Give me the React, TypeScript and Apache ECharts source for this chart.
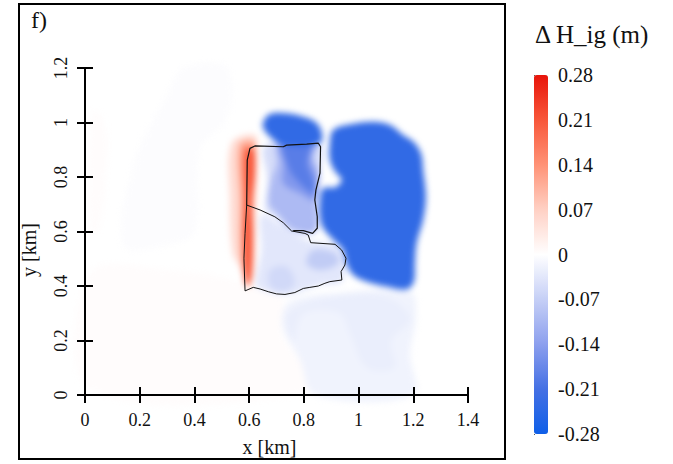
import React, { useEffect, useRef } from "react";
import * as echarts from "echarts";

const xTicks = [0, 0.2, 0.4, 0.6, 0.8, 1, 1.2, 1.4];
const yTicks = [0, 0.2, 0.4, 0.6, 0.8, 1, 1.2];
const colorbarTicks = [-0.28, -0.21, -0.14, -0.07, 0, 0.07, 0.14, 0.21, 0.28];
const colorStops = ["#0f5fe8", "#4470e4", "#8c9fee", "#c5cff6", "#ffffff", "#ffd0c4", "#ff9276", "#f8573a", "#e8140a"];

type Pt = number[];
// Contour regions of the difference field, in km.
const faintTop: Pt[] = [[0.14, 0.55], [0.18, 0.85], [0.3, 1.1], [0.36, 1.2], [0.52, 1.2], [0.52, 1.02], [0.42, 0.9], [0.4, 0.6], [0.3, 0.55]];
const faintLeft: Pt[] = [[0.02, 0.6], [0.05, 0.6], [0.08, 0.95], [0.04, 1.05], [0.02, 1]];
const faintBottom: Pt[] = [[0.02, 0.45], [0.3, 0.46], [0.55, 0.42], [0.72, 0.36], [0.72, 0.22], [0.84, 0.02], [0.02, 0.02]];
const paleBottom: Pt[] = [[0.725, 0.312], [0.761, 0.349], [0.907, 0.373], [1.188, 0.379], [1.21, 0.287], [1.188, 0.153], [1.2, 0], [0.841, 0], [0.786, 0.128], [0.725, 0.239]];
const paleBottomInner: Pt[] = [[0.74, 0.3], [0.9, 0.36], [1.1, 0.36], [1.19, 0.28], [1.12, 0.2], [1.13, 0.1], [1.03, 0.1], [0.97, 0.22], [0.93, 0.3], [0.8, 0.3], [0.76, 0.2]];
const redOuter: Pt[] = [[0.536, 0.924], [0.621, 0.954], [0.627, 0.887], [0.621, 0.679], [0.615, 0.447], [0.597, 0.392], [0.566, 0.471], [0.54, 0.52], [0.53, 0.716]];
const redMiddle: Pt[] = [[0.565, 0.917], [0.615, 0.93], [0.625, 0.875], [0.618, 0.691], [0.613, 0.447], [0.597, 0.398], [0.572, 0.496], [0.568, 0.716]];
const redCore: Pt[] = [[0.585, 0.899], [0.615, 0.899], [0.621, 0.814], [0.607, 0.703], [0.613, 0.593], [0.606, 0.434], [0.588, 0.404], [0.58, 0.593], [0.585, 0.716]];
const upperLight: Pt[] = [[0.66, 0.917], [0.859, 0.917], [0.859, 0.814], [0.841, 0.703], [0.847, 0.6], [0.761, 0.6], [0.688, 0.661], [0.66, 0.679], [0.668, 0.789]];
const lowerLight: Pt[] = [[0.645, 0.661], [0.725, 0.618], [0.81, 0.569], [0.914, 0.551], [0.95, 0.508], [0.938, 0.416], [0.859, 0.404], [0.737, 0.367], [0.65, 0.385], [0.625, 0.404], [0.645, 0.532]];
const lowerRight: Pt[] = [[0.834, 0.532], [0.914, 0.52], [0.926, 0.483], [0.859, 0.459], [0.81, 0.483]];
const lowerLeft: Pt[] = [[0.676, 0.459], [0.737, 0.471], [0.767, 0.41], [0.725, 0.379], [0.676, 0.398]];
const upperMid: Pt[] = [[0.701, 0.917], [0.847, 0.917], [0.834, 0.875], [0.859, 0.814], [0.847, 0.716], [0.841, 0.6], [0.761, 0.606], [0.701, 0.667], [0.672, 0.703], [0.68, 0.789], [0.701, 0.85]];
const upperStrong: Pt[] = [[0.713, 0.917], [0.834, 0.917], [0.825, 0.862], [0.847, 0.801], [0.841, 0.716], [0.786, 0.74], [0.725, 0.777], [0.725, 0.85]];
const upperCore: Pt[] = [[0.725, 0.924], [0.822, 0.924], [0.812, 0.85], [0.834, 0.789], [0.834, 0.74], [0.774, 0.789], [0.743, 0.838]];
const topBlob: Pt[] = [[0.652, 1.003], [0.676, 1.031], [0.737, 1.034], [0.798, 1.021], [0.841, 1.003], [0.865, 0.966], [0.859, 0.924], [0.725, 0.917], [0.676, 0.948], [0.652, 0.979]];
const bigBlob: Pt[] = [[0.908, 0.973], [0.981, 0.995], [1.054, 1.003], [1.115, 0.991], [1.163, 0.954], [1.206, 0.924], [1.23, 0.881], [1.236, 0.826], [1.246, 0.728], [1.236, 0.642], [1.212, 0.557], [1.206, 0.483], [1.202, 0.416], [1.176, 0.388], [1.102, 0.398], [1.029, 0.416], [0.981, 0.44], [0.956, 0.483], [0.944, 0.532], [0.908, 0.569], [0.871, 0.612], [0.859, 0.655], [0.859, 0.716], [0.871, 0.759], [0.914, 0.762], [0.938, 0.789], [0.914, 0.82], [0.895, 0.862], [0.895, 0.924]];

const contourRegions = [faintTop, faintLeft, faintBottom, paleBottom, paleBottomInner, redOuter, redMiddle, redCore, upperLight, lowerLight, lowerRight, lowerLeft, upperMid, upperStrong, upperCore, topBlob, bigBlob];
const contourLevels = [-0.004, 0.004, 0.004, -0.018, -0.025, 0.055, 0.12, 0.21, -0.05, -0.035, -0.075, -0.055, -0.1, -0.15, -0.19, -0.235, -0.235];

const upperOutline: Pt[] = [[0.591, 0.697], [0.593, 0.862], [0.603, 0.905], [0.621, 0.914], [0.725, 0.911], [0.737, 0.917], [0.81, 0.921], [0.853, 0.924], [0.861, 0.911], [0.859, 0.814], [0.844, 0.752], [0.84, 0.716], [0.849, 0.654], [0.849, 0.612], [0.832, 0.593], [0.798, 0.603], [0.761, 0.603]];
const lowerOutline: Pt[] = [[0.591, 0.697], [0.64, 0.679], [0.694, 0.654], [0.725, 0.632], [0.755, 0.602], [0.804, 0.593], [0.816, 0.587], [0.825, 0.559], [0.914, 0.553], [0.938, 0.532], [0.954, 0.502], [0.95, 0.477], [0.936, 0.453], [0.939, 0.422], [0.895, 0.416], [0.877, 0.41], [0.853, 0.4], [0.822, 0.395], [0.798, 0.391], [0.767, 0.376], [0.731, 0.369], [0.7, 0.371], [0.67, 0.379], [0.64, 0.389], [0.615, 0.395], [0.585, 0.382], [0.581, 0.502], [0.585, 0.593], [0.591, 0.697]];

const FONT = "Liberation Serif";
const INK = "#111";
const plotGrid = { left: 85, top: 68, width: 383, height: 327 };

export default function App() {
  const fieldRef = useRef<HTMLDivElement>(null);
  const ref = useRef<HTMLDivElement>(null);
  useEffect(() => {
    // The colour field sits in its own layer, softened with a CSS blur.
    const field = echarts.init(fieldRef.current!, undefined, { renderer: "svg" });
    field.setOption({
      animation: false,
      grid: plotGrid,
      xAxis: { type: "value", min: 0, max: 1.4, show: false },
      yAxis: { type: "value", min: 0, max: 1.2, show: false },
      visualMap: { type: "continuous", show: false, min: -0.28, max: 0.28, dimension: 1, seriesIndex: 0, inRange: { color: colorStops } },
      series: [
        {
          type: "custom", coordinateSystem: "cartesian2d", silent: true,
          data: contourLevels.map((level, i) => [i, level]),
          encode: { x: 0, y: 1 },
          renderItem: (_p: any, api: any) => ({
            type: "polygon",
            shape: { points: contourRegions[api.value(0)].map((p) => api.coord(p)), smooth: 0.35 },
            style: { fill: api.visual("color") },
          }),
        },
      ],
    });

    const chart = echarts.init(ref.current!, undefined, { renderer: "svg" });
    const plainAxis = { type: "value", min: 0, gridIndex: 0, z: 10 };
    const outline = (data: Pt[], width: number) => ({
      type: "line", data, symbol: "none", z: 5, silent: true,
      lineStyle: { color: "#111", width },
    });
    chart.setOption({
      animation: false,
      backgroundColor: "transparent",
      grid: [plotGrid, { left: 534, top: 75, width: 14, height: 359 }],
      xAxis: [
        {
          ...plainAxis, max: 1.4, interval: 0.2, position: "bottom",
          name: "x [km]", nameLocation: "middle", nameGap: 42,
          nameTextStyle: { fontFamily: FONT, fontSize: 20, color: INK, padding: [0, 14, 0, 0] },
          splitLine: { show: false },
          axisLine: { onZero: false, lineStyle: { color: "#000", width: 2 } },
          axisTick: { length: 8, lineStyle: { color: "#000", width: 2 } },
          axisLabel: { fontFamily: FONT, fontSize: 18, color: INK, margin: 16, customValues: xTicks },
        },
        {
          ...plainAxis, max: 1.4, interval: 0.2, position: "bottom",
          splitLine: { show: false },
          axisLine: { show: false },
          axisTick: { inside: true, length: 8, lineStyle: { color: "#000", width: 2 } },
          axisLabel: { show: false },
        },
        { type: "value", gridIndex: 1, min: 0, max: 1, show: false },
      ],
      yAxis: [
        {
          ...plainAxis, max: 1.2, interval: 0.2, position: "left",
          name: "y [km]", nameLocation: "middle", nameGap: 46,
          nameTextStyle: { fontFamily: FONT, fontSize: 20, color: INK, padding: [0, 37, 0, 0] },
          splitLine: { show: false },
          axisLine: { onZero: false, lineStyle: { color: "#000", width: 2 } },
          axisTick: { length: 8, lineStyle: { color: "#000", width: 2 } },
          axisLabel: { fontFamily: FONT, fontSize: 18, color: INK, rotate: 90, margin: 15, customValues: yTicks },
        },
        {
          ...plainAxis, max: 1.2, interval: 0.2, position: "left",
          splitLine: { show: false },
          axisLine: { show: false },
          axisTick: { inside: true, length: 8, lineStyle: { color: "#000", width: 2 } },
          axisLabel: { show: false },
        },
        {
          type: "value", gridIndex: 1, min: -0.28, max: 0.28, position: "right",
          splitLine: { show: false },
          axisLine: { show: false },
          axisTick: { length: 1, lineStyle: { color: "#555" }, customValues: colorbarTicks },
          axisLabel: {
            fontFamily: FONT, fontSize: 20, color: INK, margin: 10, align: "left", padding: [3, 0, 0, 0],
            customValues: colorbarTicks,
            formatter: (v: number) => (Math.abs(v) < 1e-9 ? "0" : v.toFixed(2)),
          },
        },
      ],
      visualMap: {
        type: "continuous", min: -0.28, max: 0.28, dimension: 1, seriesIndex: 2,
        left: 534, top: 75, itemWidth: 14, itemHeight: 359, padding: 0,
        calculable: false, inRange: { color: colorStops },
      },
      graphic: [
        { type: "rect", silent: true, z: 20, shape: { x: 19, y: 4, width: 486, height: 455 }, style: { fill: "none", stroke: "#000", lineWidth: 2 } },
        { type: "text", silent: true, x: 31, y: 8, style: { text: "f)", fontFamily: FONT, fontSize: 24, fill: INK } },
        { type: "text", silent: true, x: 535, y: 22, style: { text: "Δ H_ig (m)", fontFamily: FONT, fontSize: 25, fill: INK } },
      ],
      series: [
        { ...outline(upperOutline, 1.2), xAxisIndex: 0, yAxisIndex: 0 },
        { ...outline(lowerOutline, 1), xAxisIndex: 0, yAxisIndex: 0 },
        { type: "line", data: [], xAxisIndex: 2, yAxisIndex: 2, silent: true },
      ],
    });
    return () => {
      chart.dispose();
      field.dispose();
    };
  }, []);
  const box = { position: "absolute", left: 0, top: 0, width: 673, height: 464 } as React.CSSProperties;
  return (
    <div style={{ ...box, background: "#fff", overflow: "hidden" }}>
      <div ref={fieldRef} style={{ ...box, filter: "blur(3px)" }} />
      <div ref={ref} style={box} />
    </div>
  );
}
